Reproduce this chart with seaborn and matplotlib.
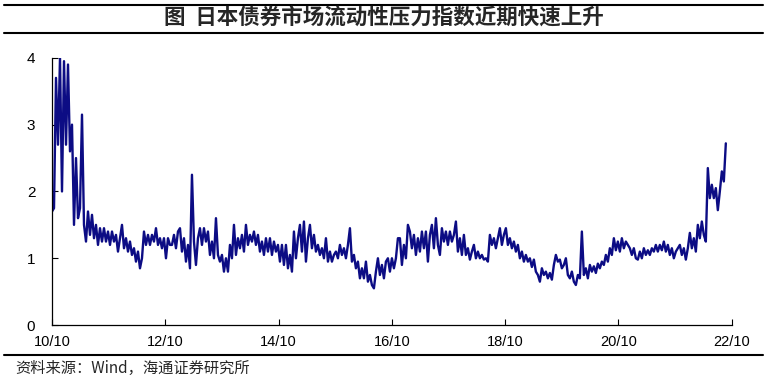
import numpy as np
import pandas as pd
import matplotlib
matplotlib.use("Agg")
import matplotlib.pyplot as plt
import matplotlib.dates as mdates
from matplotlib.lines import Line2D
import seaborn as sns

# ---- data (roughly every ~6.5 days) ----
seg_2010_2012 = [1.7, 1.75, 3.7, 2.7, 4.0, 2.0, 3.95, 2.7, 3.9, 2.6,
                 3.0, 1.5, 2.5, 1.6, 1.75, 3.15, 1.5, 1.25, 1.7, 1.35,
                 1.65, 1.3, 1.5, 1.2, 1.45, 1.25, 1.45, 1.25, 1.4, 1.2,
                 1.4, 1.25, 1.35, 1.1, 1.3, 1.5, 1.15, 1.3, 1.1, 1.25,
                 1.05, 1.15, 0.95, 1.1, 0.85, 1.0, 1.4, 1.2, 1.35, 1.2,
                 1.35, 1.25, 1.45, 1.2, 1.3, 1.15, 1.3, 1.0, 1.3, 1.2]
seg_2012_2014 = [1.2, 1.35, 1.15, 1.4, 1.45, 1.1, 1.3, 0.95, 1.2, 0.85,
                 2.25, 1.25, 0.9, 1.3, 1.45, 1.2, 1.45, 1.25, 1.4, 1.05,
                 1.25, 1.0, 1.6, 1.05, 0.95, 1.05, 0.8, 1.0, 0.8, 1.2,
                 1.0, 1.5, 1.05, 1.3, 1.15, 1.35, 1.1, 1.5, 1.2, 1.35,
                 1.25, 1.4, 1.2, 1.35, 1.1, 1.25, 1.05, 1.3, 1.1, 1.3,
                 1.05, 1.25, 1.1, 1.2, 0.95, 1.2, 0.9]
seg_2014_2016 = [1.2, 0.85, 1.05, 0.8, 1.4, 1.0, 1.3, 1.5, 1.1, 1.55,
                 0.95, 1.3, 1.5, 1.15, 1.35, 1.1, 1.2, 1.05, 1.15, 1.0,
                 1.3, 0.95, 1.1, 0.95, 1.05, 1.1, 1.0, 1.2, 1.05, 1.15,
                 1.0, 1.2, 1.45, 0.95, 1.05, 0.85, 0.95, 0.7, 0.85, 0.7,
                 0.95, 0.65, 0.75, 0.6, 0.55, 0.8, 1.0, 0.75, 0.9, 0.7,
                 0.95, 1.0, 0.8, 1.0, 0.85, 1.0, 1.3]
seg_2016_2018 = [1.3, 0.9, 1.2, 1.0, 1.5, 1.4, 1.15, 1.35, 1.05, 1.3,
                 1.1, 1.4, 1.15, 1.4, 0.95, 1.35, 1.5, 1.15, 1.6, 1.2,
                 1.05, 1.45, 1.25, 1.4, 1.2, 1.4, 1.25, 1.35, 1.55, 1.1,
                 1.3, 1.05, 1.35, 1.05, 1.15, 0.98, 1.1, 1.2, 1.0, 1.1,
                 1.0, 1.05, 0.98, 1.0, 0.95, 1.35, 1.2, 1.3, 1.15, 1.3,
                 1.45, 1.2, 1.35, 1.45, 1.2, 1.3, 1.15, 1.25]
seg_2018_2020 = [1.1, 1.2, 1.0, 1.1, 0.95, 1.05, 0.95, 1.0, 0.87, 0.98,
                 0.8, 0.75, 0.65, 0.85, 0.75, 0.8, 0.7, 0.78, 0.68, 0.9,
                 1.05, 0.95, 0.98, 0.85, 0.9, 1.0, 0.75, 0.7, 0.8, 0.65,
                 0.6, 0.75, 0.7, 1.4, 0.75, 0.85, 0.7, 0.9, 0.8, 0.88,
                 0.78, 0.92, 0.85, 0.95, 0.9, 1.05, 0.95, 1.15, 1.05, 1.3,
                 1.12, 1.25, 1.1, 1.3, 1.15, 1.25, 1.2]
seg_2020_2022 = [1.15, 1.05, 1.15, 1.0, 0.98, 1.1, 1.0, 1.15, 1.05, 1.12,
                 1.05, 1.15, 1.1, 1.2, 1.1, 1.2, 1.12, 1.25, 1.1, 1.2,
                 1.05, 1.15, 1.0, 1.1, 1.15, 1.2, 1.05, 1.15, 0.98, 1.15,
                 1.38, 1.15, 1.3, 1.1, 1.5, 1.3, 1.55, 1.35, 1.25, 2.35,
                 1.9, 2.1, 1.9, 2.05, 1.72, 2.0, 2.3, 2.15, 2.72]

values = seg_2010_2012 + seg_2012_2014 + seg_2014_2016 + seg_2016_2018 + seg_2018_2020 + seg_2020_2022
dates = pd.date_range("2010-10-01", "2022-08-25", periods=len(values))
df = pd.DataFrame({"date": dates, "index": values})

title_text = "图  日本债券市场流动性压力指数近期快速上升"
source_text = "资料来源：Wind，海通证券研究所"
y_ticks = [0, 1, 2, 3, 4]
x_tick_years = [2010, 2012, 2014, 2016, 2018, 2020, 2022]

# ---- plot ----
sns.set_style("white")
plt.rcParams["font.family"] = ["Liberation Sans", "Noto Sans CJK SC", "DejaVu Sans"]

fig = plt.figure(figsize=(7.67, 3.78), dpi=100)
ax = fig.add_axes([0.0678, 0.140, 0.886, 0.707])

sns.lineplot(data=df, x="date", y="index", ax=ax, color="#0c0c84", linewidth=1.7)

ax.set_ylim(0, 4)
ax.set_yticks(y_ticks)
ax.set_xlim(pd.Timestamp("2010-10-01"), pd.Timestamp("2022-10-01"))
ax.set_xticks([pd.Timestamp(f"{y}-10-01") for y in x_tick_years])
ax.xaxis.set_major_formatter(mdates.DateFormatter("%y/%m"))
ax.set_xlabel("")
ax.set_ylabel("")

for s in ["top", "right"]:
    ax.spines[s].set_visible(False)
for s in ["left", "bottom"]:
    ax.spines[s].set_color("black")
    ax.spines[s].set_linewidth(0.9)

ax.tick_params(axis="y", direction="in", length=4, width=0.8, pad=12,
               labelsize=11, colors="black", left=True)
ax.tick_params(axis="x", direction="in", length=4, width=0.8, pad=7,
               labelsize=10.5, colors="black", bottom=True)

# header / footer rules and text
for yy in [0.987, 0.913, 0.061]:
    fig.add_artist(Line2D([0.005, 0.995], [yy, yy], transform=fig.transFigure,
                          color="black", linewidth=1.5))

fig.text(0.501, 0.952, title_text, ha="center", va="center", fontsize=15.5,
         fontweight="bold", family=["Noto Sans CJK SC", "DejaVu Sans"])
fig.text(0.020, 0.026, source_text, ha="left", va="center", fontsize=11,
         family=["Noto Sans CJK SC", "DejaVu Sans"])

fig.savefig("out.png", dpi=100)
